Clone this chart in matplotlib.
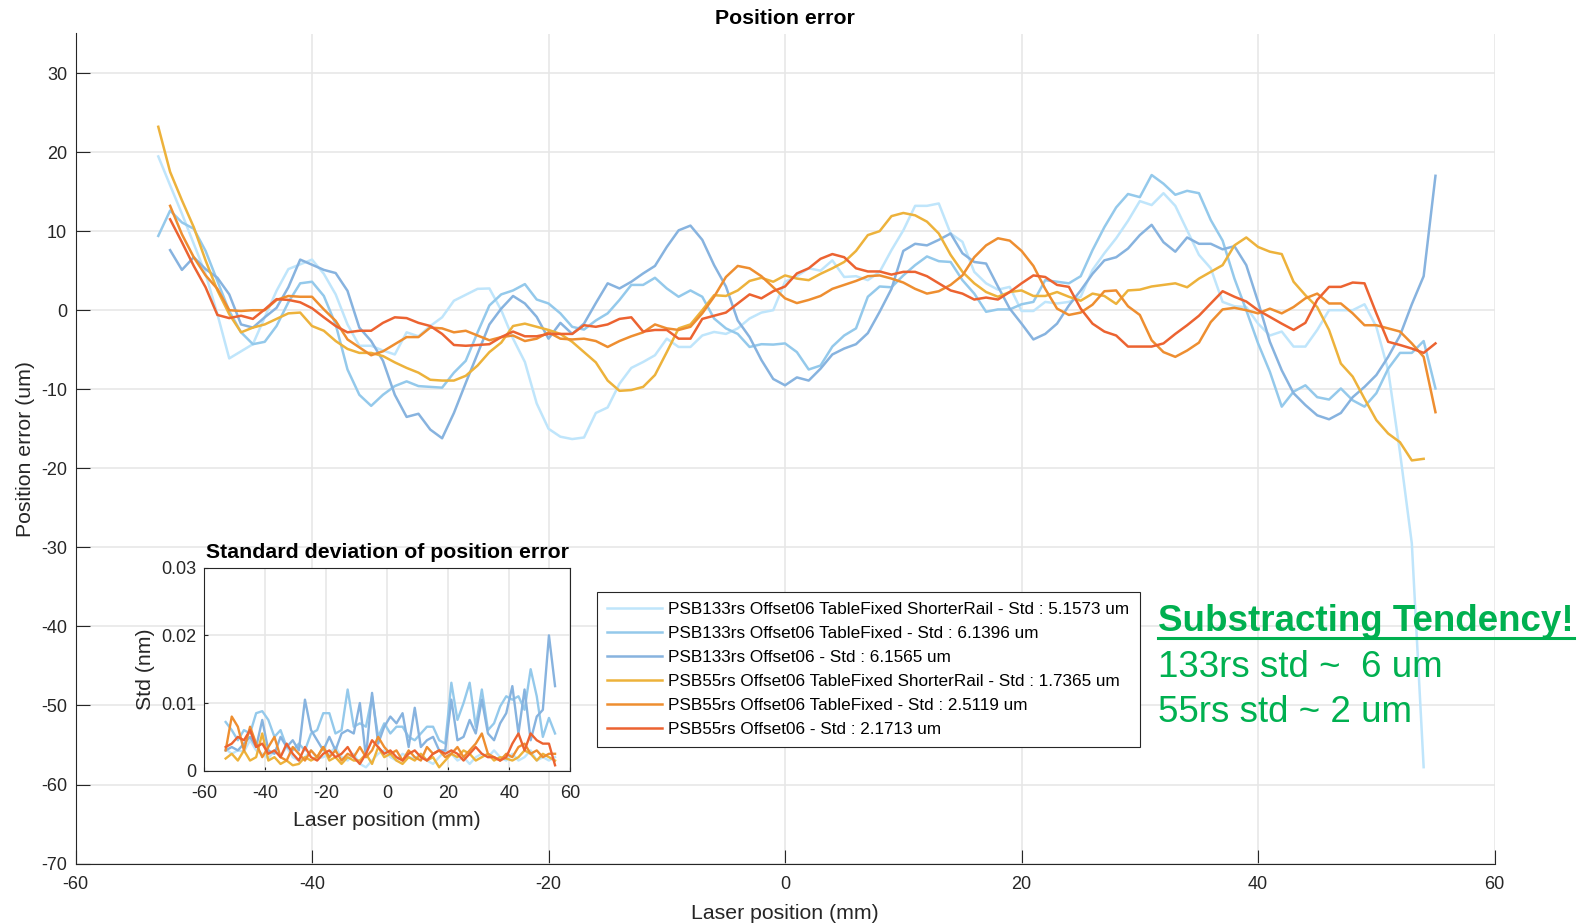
import numpy as np
import matplotlib
matplotlib.use("Agg")
from matplotlib import pyplot as plt
from matplotlib.lines import Line2D

plt.rcParams['font.family'] = ['Liberation Sans', 'DejaVu Sans']
plt.rcParams['axes.unicode_minus'] = False

# ---- main plot data: position error (um) vs laser position (mm) ----
x_a = np.arange(-53, 55)   # -53 .. 54
x_b = np.arange(-52, 56)   # -52 .. 55
x_c = np.arange(-53, 56)   # -53 .. 55

err_133_tf_sr = [19.45, 15.8, 12.2, 8.4, 4.6, -0.5, -6.1, -5.2, -4.3, -0.9,
                 2.45, 5.2, 5.8, 6.4, 4.6, 2.0, -1.8, -4.5, -4.5, -5.1,
                 -5.6, -2.8, -3.3, -2.0, -0.9, 1.2, 1.95, 2.7, 2.75, 0.0,
                 -3.6, -6.55, -11.8, -15.0, -16.0, -16.3, -16.1, -13.0, -12.3, -9.3,
                 -7.3, -6.55, -5.7, -3.6, -4.65, -4.65, -3.2, -2.75, -3.0, -2.3,
                 -1.05, -0.3, 0.0, 3.6, 4.3, 5.3, 5.0, 6.3, 4.2, 4.3,
                 3.8, 4.85, 7.6, 10.1, 13.2, 13.2, 13.5, 9.7, 8.65, 4.85,
                 3.4, 2.6, 2.95, -0.1, -0.1, 1.05, 0.85, 1.05, 1.7, 5.1,
                 7.2, 9.1, 11.3, 13.8, 13.3, 14.8, 13.2, 10.1, 7.0, 5.3,
                 1.05, 0.5, 0.4, -1.7, -3.2, -2.7, -4.6, -4.6, -2.5, 0.0,
                 0.0, 0.0, 0.75, -2.1, -7.6, -18.0, -29.5, -57.8]

err_133_tf = [9.4, 12.6, 11.1, 10.3, 7.5, 3.7, -0.1, -2.8, -4.3, -4.0,
              -2.0, 1.0, 3.4, 3.6, 1.8, -1.8, -7.5, -10.7, -12.1, -10.7,
              -9.6, -9.0, -9.6, -9.7, -9.8, -7.9, -6.4, -2.8, 0.6, 2.0,
              2.5, 3.3, 1.35, 0.85, -0.4, -2.1, -2.45, -1.3, -0.4, 1.3,
              3.2, 3.2, 4.1, 2.75, 1.7, 2.5, 1.7, -1.05, -2.3, -3.0,
              -4.65, -4.3, -4.35, -4.2, -5.3, -7.5, -7.0, -4.6, -3.2, -2.3,
              1.7, 3.0, 2.9, 4.4, 5.7, 6.8, 6.2, 6.1, 3.8, 2.1,
              -0.2, 0.1, 0.1, 0.75, 1.05, 3.8, 3.6, 3.4, 4.3, 7.6,
              10.5, 13.0, 14.7, 14.3, 17.1, 16.0, 14.6, 15.1, 14.8, 11.4,
              8.8, 4.0, 0.0, -4.2, -7.8, -12.2, -10.3, -9.5, -11.0, -11.3,
              -9.9, -11.4, -12.2, -10.5, -7.4, -5.4, -5.4, -3.9, -9.9]

err_133 = [7.6, 5.1, 6.7, 5.2, 4.1, 2.0, -1.8, -2.2, -0.9, 0.3,
           2.9, 6.4, 5.75, 5.1, 4.7, 2.45, -2.2, -3.9, -6.4, -10.7,
           -13.5, -13.1, -15.1, -16.2, -13.0, -9.2, -5.5, -1.8, 0.2, 1.8,
           0.85, -0.85, -3.6, -1.6, -3.0, -1.7, 0.9, 3.4, 2.75, 3.6,
           4.65, 5.6, 8.0, 10.1, 10.7, 8.9, 5.7, 3.0, -1.3, -3.4,
           -6.3, -8.7, -9.5, -8.5, -8.9, -7.4, -5.6, -4.85, -4.3, -2.9,
           -0.2, 2.7, 7.5, 8.4, 8.2, 8.9, 9.7, 7.2, 6.1, 5.9,
           3.0, 0.2, -1.7, -3.7, -3.0, -1.7, 0.6, 2.5, 4.6, 6.3,
           6.7, 7.8, 9.5, 10.8, 8.6, 7.4, 9.2, 8.4, 8.4, 7.7,
           8.1, 5.7, 1.05, -4.0, -7.6, -10.5, -12.0, -13.3, -13.8, -13.0,
           -11.0, -9.7, -8.2, -5.9, -3.2, 0.75, 4.3, 17.0]

err_55_tf_sr = [23.2, 17.5, 13.9, 10.5, 6.3, 2.5, -0.5, -2.8, -2.2, -1.8,
                -1.1, -0.4, -0.3, -2.0, -2.6, -3.9, -4.9, -5.4, -5.4, -5.8,
                -6.6, -7.3, -7.9, -8.8, -8.9, -8.9, -8.3, -7.0, -5.3, -4.1,
                -2.0, -1.7, -2.1, -2.5, -3.0, -4.0, -5.3, -6.6, -8.9, -10.2,
                -10.1, -9.7, -8.2, -5.3, -2.3, -1.8, 0.0, 1.9, 1.8, 2.5,
                3.7, 4.1, 3.6, 4.4, 4.0, 3.8, 4.6, 5.3, 6.1, 7.5,
                9.5, 10.0, 11.9, 12.3, 12.0, 11.2, 9.7, 7.0, 4.85, 3.4,
                2.3, 1.7, 2.3, 2.5, 1.8, 1.8, 2.3, 1.7, 1.2, 2.1,
                1.8, 0.8, 2.5, 2.6, 3.0, 3.2, 3.4, 2.9, 4.0, 4.85,
                5.7, 8.2, 9.2, 8.0, 7.4, 7.1, 3.6, 1.9, 0.4, -2.5,
                -6.75, -8.4, -11.2, -13.9, -15.6, -16.7, -19.0, -18.8]

err_55_tf = [13.2, 9.6, 6.7, 4.4, 2.7, 0.0, -0.1, 0.0, 0.0, 1.3,
             1.8, 1.7, 1.7, 0.1, -1.35, -3.7, -4.7, -5.7, -5.2, -4.3,
             -3.4, -3.4, -2.2, -2.3, -2.8, -2.6, -3.2, -3.8, -3.4, -3.2,
             -3.9, -3.6, -2.8, -3.6, -3.7, -3.6, -3.9, -4.65, -3.9, -3.3,
             -2.8, -1.8, -2.3, -2.5, -2.1, -0.4, 1.7, 4.2, 5.6, 5.3,
             4.3, 2.9, 1.5, 0.9, 1.3, 1.8, 2.7, 3.2, 3.7, 4.3,
             4.4, 4.0, 3.5, 2.7, 2.1, 2.4, 3.2, 4.4, 6.7, 8.2,
             9.1, 8.8, 7.5, 5.6, 2.7, 0.2, -0.6, -0.3, 0.7, 2.4,
             2.5, 0.5, -0.6, -3.8, -5.3, -5.9, -5.1, -4.1, -1.5, 0.1,
             0.3, 0.0, -0.4, 0.2, -0.4, 0.4, 1.5, 2.1, 0.85, 0.85,
             -0.4, -1.9, -1.9, -2.3, -2.7, -4.2, -5.9, -12.9]

err_55 = [11.5, 8.6, 5.6, 2.9, -0.6, -1.0, -0.7, -1.1, 0.1, 1.4,
          1.3, 1.0, 0.25, -0.9, -2.0, -2.8, -2.6, -2.6, -1.6, -0.9,
          -1.0, -1.6, -2.0, -3.0, -4.4, -4.5, -4.4, -4.3, -3.4, -2.7,
          -3.3, -3.3, -3.0, -3.0, -3.0, -1.9, -2.1, -1.8, -1.1, -0.9,
          -2.7, -2.5, -2.5, -3.6, -3.6, -1.1, -0.7, -0.3, 0.85, 2.0,
          1.5, 2.4, 3.0, 4.65, 5.3, 6.5, 7.1, 6.7, 5.3, 4.9,
          4.9, 4.5, 4.85, 4.85, 4.3, 3.4, 2.5, 2.1, 1.35, 1.6,
          1.35, 2.3, 3.4, 4.4, 4.2, 3.2, 2.95, 0.2, -1.7, -2.7,
          -3.2, -4.6, -4.6, -4.6, -4.2, -3.0, -1.9, -0.7, 0.85, 2.4,
          1.7, 1.1, 0.0, -0.85, -1.7, -2.5, -1.6, 1.3, 2.95, 2.95,
          3.5, 3.4, -0.4, -4.0, -4.4, -4.85, -5.4, -4.2]

# ---- inset data: std of position error (1e-3 nm), every 2 mm ----
x_std = np.arange(-53, 56, 2)  # -53 .. 55
std_133_tf_sr = [3.2, 2.5, 3.0, 2.8, 4.5, 3.0, 2.5, 1.8, 3.0, 2.2, 3.5, 2.0, 1.5, 2.0,
                 3.0, 1.8, 2.0, 2.5, 3.5, 2.0, 1.5, 2.5, 1.0, 0.5, 1.5, 2.5, 3.0, 2.0,
                 1.5, 2.5, 2.0, 1.8, 2.5, 1.5, 1.0, 2.0, 3.0, 2.5, 1.5, 2.0, 1.0, 2.0,
                 2.5, 2.0, 3.0, 2.0, 1.5, 2.5, 1.5, 2.0, 3.0, 1.5, 2.0, 1.5, 2.0]
std_133_tf = [7.2, 6.0, 4.5, 6.0, 5.5, 8.5, 8.8, 7.5, 5.0, 6.0, 3.5, 3.0, 4.0, 3.0,
              5.5, 6.0, 8.5, 8.5, 5.5, 6.0, 12.0, 6.5, 7.0, 6.5, 11.0, 5.0, 7.0, 5.5,
              6.5, 6.5, 5.0, 4.5, 5.5, 6.5, 6.5, 4.5, 4.0, 13.0, 7.5, 10.0, 13.0, 6.5,
              12.0, 6.0, 7.0, 9.5, 11.0, 10.5, 11.0, 9.0, 15.0, 11.0, 5.0, 7.8, 5.5]
std_133 = [3.0, 3.5, 3.0, 4.0, 5.0, 3.5, 7.5, 3.0, 2.5, 5.0, 3.5, 4.5, 3.0, 10.5,
           6.0, 4.5, 3.0, 5.0, 3.0, 5.5, 6.0, 5.5, 10.0, 2.0, 11.5, 4.0, 6.5, 8.0,
           7.0, 8.5, 3.5, 9.3, 3.5, 4.5, 5.0, 3.0, 3.0, 10.5, 4.5, 5.0, 7.5, 5.5,
           10.5, 5.5, 4.5, 7.0, 8.5, 12.5, 5.5, 12.0, 4.5, 8.0, 9.0, 20.0, 12.5]
std_55_tf_sr = [1.8, 2.5, 1.5, 3.0, 1.5, 2.0, 5.5, 1.5, 2.0, 1.0, 1.5, 0.8, 1.0, 2.0,
                1.5, 2.0, 3.5, 1.5, 2.0, 1.0, 2.0, 1.5, 1.5, 2.5, 1.0, 3.5, 2.0, 2.5,
                1.5, 1.0, 2.0, 1.5, 2.5, 1.5, 2.0, 0.5, 1.5, 2.5, 2.0, 3.0, 2.5, 1.5,
                2.0, 2.5, 1.5, 2.0, 1.8, 1.5, 2.0, 3.0, 2.5, 1.5, 2.5, 2.0, 1.5]
std_55_tf = [3.0, 8.0, 6.5, 3.0, 6.5, 4.0, 2.0, 3.5, 5.0, 2.0, 1.5, 3.5, 2.5, 1.5,
             3.0, 2.0, 3.5, 2.0, 3.0, 1.5, 2.5, 2.0, 3.5, 2.0, 3.0, 5.0, 3.5, 2.5,
             3.0, 1.5, 3.0, 2.0, 1.5, 3.5, 2.5, 3.0, 2.0, 2.5, 3.5, 2.0, 3.0, 4.0,
             5.5, 2.5, 2.0, 1.5, 2.5, 2.0, 3.5, 4.0, 2.5, 3.0, 2.0, 2.5, 2.5]
std_55 = [3.5, 4.0, 5.0, 4.5, 6.0, 3.5, 4.0, 2.5, 3.0, 2.0, 4.0, 2.5, 1.5, 3.5,
          2.0, 1.5, 2.5, 3.0, 2.0, 2.5, 3.5, 2.0, 1.0, 2.5, 4.5, 3.5, 2.5, 3.0,
          2.0, 1.5, 2.5, 3.0, 2.0, 1.5, 2.5, 3.0, 2.5, 3.0, 2.5, 1.5, 2.5, 3.5,
          2.5, 2.0, 2.0, 1.5, 2.0, 4.0, 5.5, 3.0, 5.5, 4.5, 4.0, 4.0, 0.8]

labels = ["PSB133rs Offset06 TableFixed ShorterRail - Std : 5.1573 um",
          "PSB133rs Offset06 TableFixed - Std : 6.1396 um",
          "PSB133rs Offset06 - Std : 6.1565 um",
          "PSB55rs Offset06 TableFixed ShorterRail - Std : 1.7365 um",
          "PSB55rs Offset06 TableFixed - Std : 2.5119 um",
          "PSB55rs Offset06 - Std : 2.1713 um"]
colors = ['#bfe5fb', '#94c9eb', '#87b3df', '#edb23b', '#ee8e30', '#ec6331']

W, H = 1591, 923
fig = plt.figure(figsize=(W / 100, H / 100), dpi=100)
dark = '#262626'
grid_c = '#e6e6e6'


def style_axes(ax, ticklen, xpad, ypad):
    ax.grid(True, color=grid_c, lw=1.1)
    ax.set_axisbelow(True)
    ax.tick_params(direction='in', length=ticklen, width=0.8, colors=dark, labelsize=13)
    ax.tick_params(axis='x', pad=xpad)
    ax.tick_params(axis='y', pad=ypad)
    for s in ax.spines.values():
        s.set_color(dark)
        s.set_linewidth(0.8)


ax = fig.add_axes([75.5 / W, 1 - 863.6 / H, (1494.6 - 75.5) / W, (863.6 - 33.5) / H])
series = [(x_a, err_133_tf_sr), (x_c, err_133_tf), (x_b, err_133),
          (x_a, err_55_tf_sr), (x_b, err_55_tf), (x_b, err_55)]
for (xx, yy), c, lab in zip(series, colors, labels):
    ax.plot(xx, yy, color=c, lw=1.8, label=lab)
ax.set_xlim(-60, 60)
ax.set_ylim(-70, 35)
ax.set_xticks(range(-60, 61, 20))
ax.set_yticks(range(-70, 31, 10))
style_axes(ax, 10, 9, 6)
ax.spines['top'].set_visible(False)
ax.spines['right'].set_visible(False)
ax.set_title("Position error", fontsize=15.3, fontweight='bold', pad=7)
ax.set_xlabel("Laser position (mm)", fontsize=15.3, color=dark, labelpad=8)
ax.set_ylabel("Position error (um)", fontsize=15.3, color=dark, labelpad=4.6)

leg = ax.legend(loc='upper left', mode='expand',
                bbox_to_anchor=(597 / W, 1 - 742 / H, (1139.5 - 597) / W, (742 - 592) / H),
                bbox_transform=fig.transFigure, fontsize=12.35, fancybox=False,
                edgecolor=dark, framealpha=1, borderpad=0.6, labelspacing=0.52,
                handlelength=3.2, handletextpad=0.35, borderaxespad=0)
leg.get_frame().set_linewidth(0.8)

# inset
ins = fig.add_axes([204.3 / W, 1 - 770.7 / H, (570.3 - 204.3) / W, (770.7 - 567.7) / H])
std_series = [std_133_tf_sr, std_133_tf, std_133, std_55_tf_sr, std_55_tf, std_55]
for yy, c in zip(std_series, colors):
    ins.plot(x_std, np.array(yy) * 1e-3, color=c, lw=1.7)
ins.set_xlim(-60, 60)
ins.set_ylim(0, 0.03)
ins.set_xticks(range(-60, 61, 20))
ins.set_yticks([0, 0.01, 0.02, 0.03])
ins.set_yticklabels(["0", "0.01", "0.02", "0.03"])
style_axes(ins, 3, 10, 6)
ins.set_title("Standard deviation of position error", fontsize=15.3, fontweight='bold', pad=7)
ins.set_xlabel("Laser position (mm)", fontsize=15.3, color=dark, labelpad=7)
ins.set_ylabel("Std (nm)", fontsize=15.3, color=dark, labelpad=4)

# annotation
green = '#00b050'
t1 = fig.text(1158 / W, 1 - 631 / H, "Substracting Tendency!", color=green,
              fontsize=26.5, fontweight='bold', va='baseline', ha='left')
fig.text(1158 / W, 1 - 677 / H, "133rs std ~  6 um", color=green,
         fontsize=26.5, va='baseline', ha='left')
fig.text(1158 / W, 1 - 722 / H, "55rs std ~ 2 um", color=green,
         fontsize=26.5, va='baseline', ha='left')

fig.canvas.draw()
bb = t1.get_window_extent()
uy = (H - 638) / H
fig.add_artist(Line2D([bb.x0 / W, bb.x1 / W], [uy, uy], transform=fig.transFigure,
                      color=green, lw=2.2))

fig.savefig("out.png", dpi=100)
